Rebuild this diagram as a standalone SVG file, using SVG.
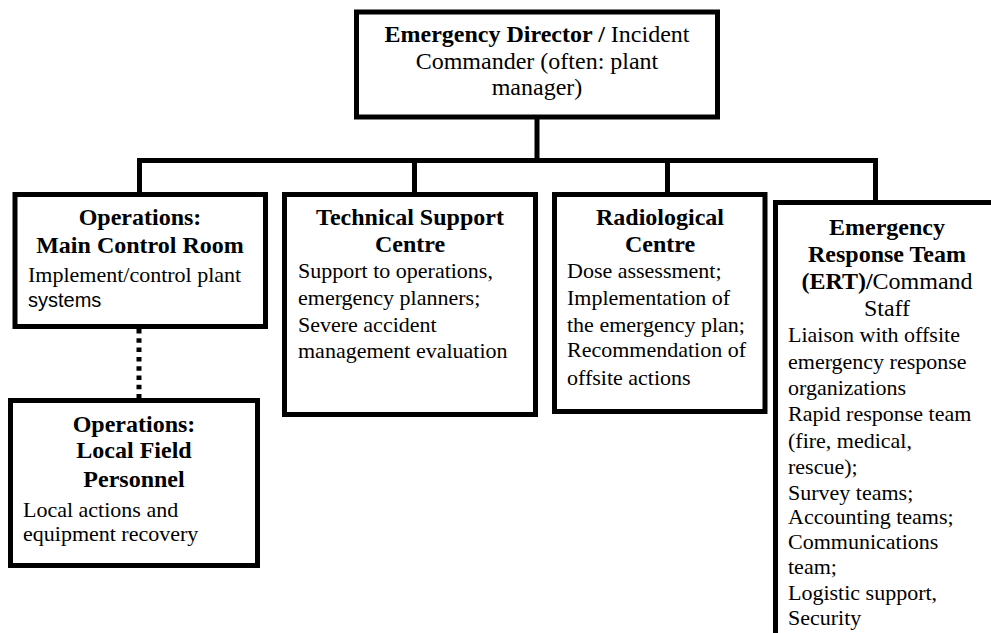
<svg xmlns="http://www.w3.org/2000/svg" width="991" height="633" viewBox="0 0 991 633">
<style>
.box{fill:#fff;stroke:#000;stroke-width:5}
.ln{fill:none;stroke:#000;stroke-width:5}
.t{font-family:'Liberation Serif','Times New Roman','DejaVu Serif',serif;fill:#000}
.h{font-weight:bold;font-size:24px;text-anchor:middle}
.b{font-size:22px}
.c{text-anchor:middle}
</style>
<rect width="991" height="633" fill="#fff"/>
<g id="connectors">
<path class="ln" d="M537 117V160.5M137 160.5H878M139.5 160.5V194.5M414.5 160.5V194.5M667.5 160.5V194.5M875.5 160.5V202.5"/>
<path class="ln" d="M139 329V400" stroke-dasharray="4.5 4.8"/>
</g>
<g id="director" class="t" font-family="Liberation Serif, serif">
<rect class="box" x="356.5" y="12" width="361" height="105"/>
<text x="537" y="42" class="c" font-size="24"><tspan font-weight="bold">Emergency Director /</tspan> Incident</text>
<text x="537" y="68.5" class="c" font-size="24">Commander (often: plant</text>
<text x="537" y="95" class="c" font-size="24">manager)</text>
</g>
<g id="mcr" class="t" font-family="Liberation Serif, serif">
<rect class="box" x="15" y="194.5" width="250.5" height="132"/>
<text x="140" y="225" class="h">Operations:</text>
<text x="140" y="253" class="h">Main Control Room</text>
<text x="28" y="282" class="b">Implement/control plant</text>
<text x="28" y="307" font-size="20" style="font-family:'Liberation Sans',Arial,sans-serif">systems</text>
</g>
<g id="tsc" class="t" font-family="Liberation Serif, serif">
<rect class="box" x="284.5" y="194.5" width="251" height="220"/>
<text x="410" y="225" class="h">Technical Support</text>
<text x="410" y="252" class="h">Centre</text>
<text x="298" y="278" class="b">Support to operations,</text>
<text x="298" y="305" class="b">emergency planners;</text>
<text x="298" y="332" class="b">Severe accident</text>
<text x="298" y="358" class="b">management evaluation</text>
</g>
<g id="rad" class="t" font-family="Liberation Serif, serif">
<rect class="box" x="554.5" y="194.5" width="210.5" height="217"/>
<text x="660" y="225" class="h">Radiological</text>
<text x="660" y="252" class="h">Centre</text>
<text x="567" y="278" class="b">Dose assessment;</text>
<text x="567" y="305" class="b">Implementation of</text>
<text x="567" y="332" class="b">the emergency plan;</text>
<text x="567" y="357" class="b">Recommendation of</text>
<text x="567" y="385" class="b">offsite actions</text>
</g>
<g id="ert" class="t" font-family="Liberation Serif, serif">
<rect class="box" x="775.5" y="202.5" width="260" height="460"/>
<text x="887" y="235" class="h">Emergency</text>
<text x="887" y="262" class="h">Response Team</text>
<text x="887" y="289" class="c" font-size="24"><tspan font-weight="bold">(ERT)/</tspan>Command</text>
<text x="887" y="316" class="c" font-size="24">Staff</text>
<text x="788" y="342" class="b">Liaison with offsite</text>
<text x="788" y="369" class="b">emergency response</text>
<text x="788" y="395" class="b">organizations</text>
<text x="788" y="421" class="b">Rapid response team</text>
<text x="788" y="448" class="b">(fire, medical,</text>
<text x="788" y="474" class="b">rescue);</text>
<text x="788" y="500" class="b">Survey teams;</text>
<text x="788" y="524" class="b">Accounting teams;</text>
<text x="788" y="549" class="b">Communications</text>
<text x="788" y="574" class="b">team;</text>
<text x="788" y="600" class="b">Logistic support,</text>
<text x="788" y="625" class="b">Security</text>
</g>
<g id="lfp" class="t" font-family="Liberation Serif, serif">
<rect class="box" x="10.5" y="400.5" width="247" height="165"/>
<text x="134" y="432" class="h">Operations:</text>
<text x="134" y="458" class="h">Local Field</text>
<text x="134" y="487" class="h">Personnel</text>
<text x="23" y="517" class="b">Local actions and</text>
<text x="23" y="541" class="b">equipment recovery</text>
</g>
</svg>
